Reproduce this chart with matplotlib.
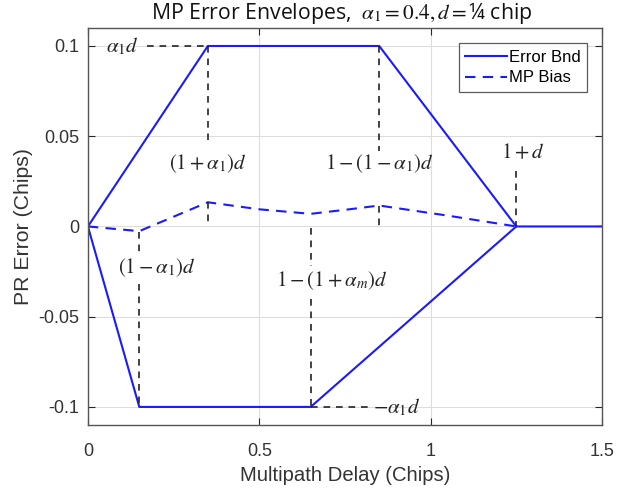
import matplotlib
matplotlib.use("Agg")
import matplotlib.pyplot as plt

plt.rcParams['mathtext.fontset'] = 'stix'
plt.rcParams['font.family'] = ['Liberation Sans', 'DejaVu Sans']

# Data
bnd_upper_x = [0.0, 0.35, 0.85, 1.25, 1.5]
bnd_upper_y = [0.0, 0.1, 0.1, 0.0, 0.0]
bnd_lower_x = [0.0, 0.15, 0.65, 1.25]
bnd_lower_y = [0.0, -0.1, -0.1, 0.0]
bias_x = [0.0, 0.15, 0.35, 0.5, 0.65, 0.75, 0.85, 1.05, 1.25]
bias_y = [0.0, -0.0026, 0.0134, 0.0095, 0.007, 0.0092, 0.0116, 0.006, 0.0]
xticks = [0, 0.5, 1, 1.5]
yticks = [-0.1, -0.05, 0, 0.05, 0.1]
ytick_labels = ['-0.1', '-0.05', '0', '0.05', '0.1']
xtick_labels = ['0', '0.5', '1', '1.5']

fig = plt.figure(figsize=(6.19, 4.9), dpi=100)
ax = fig.add_axes([0.142, 0.1327, 0.8305, 0.8103])
txtc = '#262626'

ax.plot(bnd_upper_x, bnd_upper_y, color='#1a1aff', lw=1.5, label='Error Bnd')
ax.plot(bnd_lower_x, bnd_lower_y, color='#1a1aff', lw=1.5)
ax.plot(bias_x, bias_y, color='#1a1aff', lw=1.5, ls=(0, (5, 3.5)), label='MP Bias')

dk = dict(color='#222222', lw=1.2, ls=(0, (4, 3.5)))
# vertical dashed guides
ax.plot([0.35, 0.35], [0.1, 0.048], **dk)
ax.plot([0.35, 0.35], [0.0134, 0.0], **dk)
ax.plot([0.85, 0.85], [0.1, 0.042], **dk)
ax.plot([0.85, 0.85], [0.0116, 0.0], **dk)
ax.plot([0.15, 0.15], [-0.003, -0.014], **dk)
ax.plot([0.15, 0.15], [-0.032, -0.1], **dk)
ax.plot([0.65, 0.65], [-0.001, -0.022], **dk)
ax.plot([0.65, 0.65], [-0.040, -0.1], **dk)
ax.plot([1.25, 1.25], [0.031, 0.0], **dk)
# horizontal dashed guides
ax.plot([0.172, 0.35], [0.1, 0.1], **dk)
ax.plot([0.65, 0.83], [-0.1, -0.1], **dk)

fs = 15
tk = dict(fontsize=fs, ha='center', va='center', color='#222222')
ax.text(0.10, 0.1, r'$\alpha_1 d$', **tk)
ax.text(0.35, 0.035, r'$(1+\alpha_1)d$', **tk)
ax.text(0.85, 0.035, r'$1-(1-\alpha_1)d$', **tk)
ax.text(0.20, -0.0226, r'$(1-\alpha_1)d$', **tk)
ax.text(0.71, -0.030, r'$1-(1+\alpha_m)d$', **tk)
ax.text(1.27, 0.041, r'$1+d$', **tk)
ax.text(0.90, -0.1, r'$-\alpha_1 d$', **tk)

ax.set_xlim(0, 1.5)
ax.set_ylim(-0.11, 0.11)
ax.set_xticks(xticks)
ax.set_xticklabels(xtick_labels)
ax.set_yticks(yticks)
ax.set_yticklabels(ytick_labels)
ax.tick_params(direction='in', labelsize=13, colors=txtc, length=5, top=True, right=True,
               labelcolor='#333333', pad=6)
ax.tick_params(axis='x', pad=13)
ax.grid(True, color='#dddddd', lw=0.8)
ax.set_axisbelow(True)
for s in ax.spines.values():
    s.set_color('#555555')
    s.set_linewidth(1.0)

ax.set_xlabel('Multipath Delay (Chips)', fontsize=14.6, color='#333333', labelpad=4)
ax.set_ylabel('PR Error (Chips)', fontsize=15.3, color='#333333', labelpad=4)

leg = ax.legend(loc='upper right', fontsize=12, frameon=True,
                fancybox=False, edgecolor='#333333', handlelength=2.5,
                borderaxespad=0.9, handletextpad=0.1, borderpad=0.4, labelspacing=0.35)
leg.get_frame().set_linewidth(0.9)

fig.text(342 / 619, 1 - 13 / 490, r'MP Error Envelopes,  $\alpha_1 = 0.4, d = $' + '¼ chip',
         ha='center', va='center', fontsize=15.3, color='#111111',
         family=['Open Sans', 'DejaVu Sans'])

fig.savefig('out.png', dpi=100)
